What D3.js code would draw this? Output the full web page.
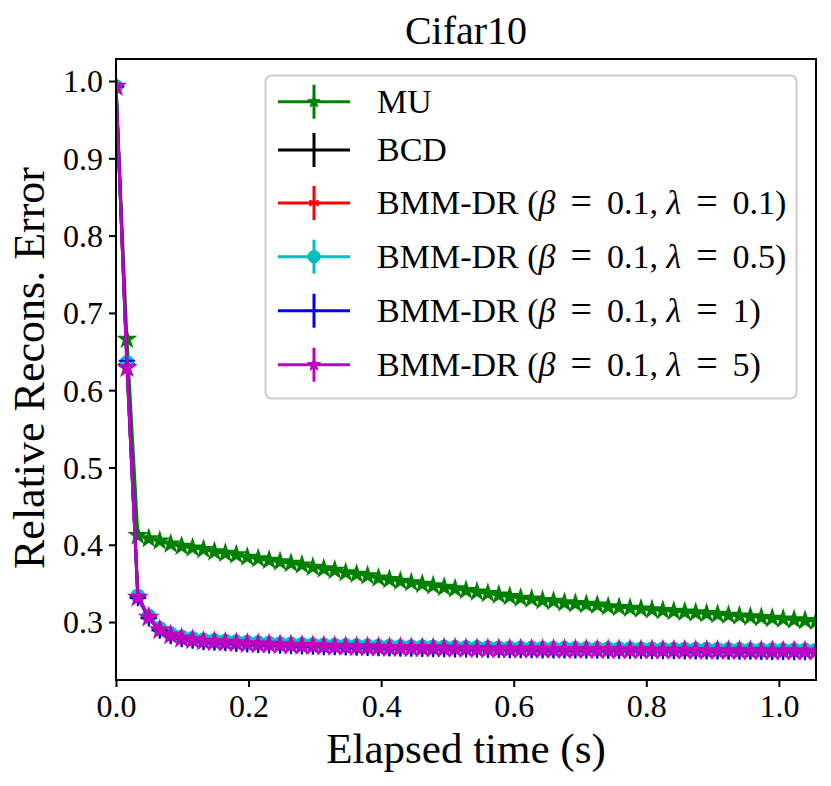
<!DOCTYPE html>
<html><head><meta charset="utf-8">
<script src="https://cdn.jsdelivr.net/npm/d3@7/dist/d3.min.js"></script>
<style>body{margin:0;background:#fff}</style>
</head><body>
<svg id="chart" width="831" height="786"></svg>
<script>
// Elapsed time (s) for each iteration
const time = [0.0000,0.0165,0.0330,0.0495,0.0660,0.0825,0.0990,0.1155,0.1320,0.1485,0.1650,0.1815,0.1980,0.2145,0.2310,0.2475,0.2640,0.2805,0.2970,0.3135,0.3300,0.3465,0.3630,0.3795,0.3960,0.4125,0.4290,0.4455,0.4620,0.4785,0.4950,0.5115,0.5280,0.5445,0.5610,0.5775,0.5940,0.6105,0.6270,0.6435,0.6600,0.6765,0.6930,0.7095,0.7260,0.7425,0.7590,0.7755,0.7920,0.8085,0.8250,0.8415,0.8580,0.8745,0.8910,0.9075,0.9240,0.9405,0.9570,0.9735,0.9900,1.0065,1.0230,1.0395,1.0560,1.0725];

const muValues = [0.993,0.666,0.412,0.408,0.405,0.401,0.398,0.396,0.394,0.391,0.389,0.387,0.384,0.382,0.380,0.378,0.376,0.374,0.371,0.369,0.367,0.364,0.362,0.360,0.357,0.355,0.353,0.351,0.349,0.347,0.345,0.343,0.341,0.339,0.337,0.335,0.333,0.331,0.330,0.328,0.327,0.325,0.324,0.323,0.322,0.320,0.319,0.318,0.317,0.316,0.315,0.314,0.313,0.312,0.311,0.310,0.309,0.308,0.307,0.306,0.305,0.304,0.303,0.302,0.301,0.300];

const bcdValues = [0.993,0.634,0.333,0.306,0.290,0.283,0.279,0.2768,0.2752,0.2745,0.2738,0.2730,0.2722,0.2715,0.2710,0.2705,0.2700,0.2696,0.2692,0.2688,0.2685,0.2682,0.2679,0.2676,0.2673,0.2670,0.2668,0.2666,0.2664,0.2662,0.2660,0.2658,0.2656,0.2654,0.2652,0.2650,0.2649,0.2648,0.2647,0.2646,0.2645,0.2644,0.2643,0.2642,0.2641,0.2640,0.2639,0.2638,0.2637,0.2636,0.2635,0.2634,0.2633,0.2632,0.2631,0.2630,0.2629,0.2628,0.2627,0.2626,0.2625,0.2624,0.2623,0.2622,0.2621,0.2620];

const bmmL01Values = [0.993,0.636,0.333,0.307,0.291,0.284,0.280,0.2775,0.2757,0.2750,0.2742,0.2734,0.2727,0.2720,0.2714,0.2709,0.2704,0.2700,0.2696,0.2692,0.2689,0.2686,0.2683,0.2680,0.2677,0.2674,0.2672,0.2670,0.2668,0.2666,0.2664,0.2662,0.2660,0.2658,0.2656,0.2654,0.2653,0.2652,0.2651,0.2650,0.2649,0.2648,0.2647,0.2646,0.2645,0.2644,0.2643,0.2642,0.2641,0.2640,0.2639,0.2638,0.2637,0.2636,0.2635,0.2634,0.2633,0.2632,0.2631,0.2630,0.2629,0.2628,0.2627,0.2626,0.2625,0.2624];

const bmmL05Values = [0.993,0.636,0.334,0.308,0.292,0.285,0.281,0.279,0.277,0.2763,0.2755,0.2747,0.2740,0.2733,0.2727,0.2722,0.2717,0.2713,0.2709,0.2705,0.2702,0.2699,0.2696,0.2693,0.2690,0.2688,0.2686,0.2684,0.2682,0.2680,0.2678,0.2676,0.2674,0.2672,0.2670,0.2668,0.2667,0.2666,0.2665,0.2664,0.2663,0.2662,0.2661,0.2660,0.2659,0.2658,0.2657,0.2656,0.2655,0.2654,0.2653,0.2652,0.2651,0.2650,0.2649,0.2648,0.2647,0.2646,0.2645,0.2644,0.2643,0.2642,0.2641,0.2640,0.2639,0.2638];

const bmmL1Values = [0.993,0.638,0.331,0.305,0.289,0.282,0.278,0.276,0.2742,0.2735,0.2727,0.2719,0.2712,0.2705,0.2700,0.2695,0.2690,0.2686,0.2682,0.2678,0.2675,0.2672,0.2669,0.2666,0.2663,0.2660,0.2658,0.2656,0.2654,0.2652,0.2650,0.2648,0.2646,0.2644,0.2642,0.2640,0.2639,0.2638,0.2637,0.2636,0.2635,0.2634,0.2633,0.2632,0.2631,0.2630,0.2629,0.2628,0.2627,0.2626,0.2625,0.2624,0.2623,0.2622,0.2621,0.2620,0.2619,0.2618,0.2617,0.2616,0.2615,0.2614,0.2613,0.2612,0.2611,0.2610];

const bmmL5Values = [0.993,0.629,0.332,0.306,0.290,0.283,0.279,0.277,0.2750,0.2745,0.2738,0.2730,0.2722,0.2715,0.2710,0.2705,0.2700,0.2696,0.2692,0.2688,0.2685,0.2682,0.2679,0.2676,0.2673,0.2670,0.2668,0.2666,0.2664,0.2662,0.2660,0.2658,0.2656,0.2654,0.2652,0.2650,0.2649,0.2648,0.2647,0.2646,0.2645,0.2644,0.2643,0.2642,0.2641,0.2640,0.2639,0.2638,0.2637,0.2636,0.2635,0.2634,0.2633,0.2632,0.2631,0.2630,0.2629,0.2628,0.2627,0.2626,0.2625,0.2624,0.2623,0.2622,0.2621,0.2620];

const seriesNames = ["MU","BCD","BMM-DR λ=0.1","BMM-DR λ=0.5","BMM-DR λ=1","BMM-DR λ=5"];
const lambdaLabels = [null, null, "0.1", "0.5", "1", "5"];
const seriesColors = ["#008000","#000000","#ff0000","#00bfbf","#0000ff","#bf00bf"];
const xTicks = [0.0,0.2,0.4,0.6,0.8,1.0];
const yTicks = [0.3,0.4,0.5,0.6,0.7,0.8,0.9,1.0];
const titleText = "Cifar10";
const xLabel = "Elapsed time (s)";
const yLabel = "Relative Recons. Error";

const seriesValues = [muValues,bcdValues,bmmL01Values,bmmL05Values,bmmL1Values,bmmL5Values];
const markerTypes = [
  {sym:d3.symbolStar, size:85, fill:true},
  {sym:d3.symbolPlus, size:90, fill:false},
  {sym:d3.symbolAsterisk, size:90, fill:false},
  {sym:d3.symbolCircle, size:135, fill:true},
  {sym:d3.symbolPlus, size:90, fill:false},
  {sym:d3.symbolStar, size:95, fill:true}
];
const legendMarkerScale = [0.55, 1, 0.9, 0.9, 1, 0.55];

const svg = d3.select("#chart");
const L=116, R=816, T=59, B=680;
const x = d3.scaleLinear().domain([0,1.056]).range([L,R]);
const y = d3.scaleLinear().domain([0.225,1.0285]).range([B,T]);
const serif = "'Liberation Serif','Times New Roman',serif";

svg.append("defs").append("clipPath").attr("id","clip")
  .append("rect").attr("x",L).attr("y",T).attr("width",R-L).attr("height",B-T);

const plot = svg.append("g").attr("clip-path","url(#clip)");
const line = d3.line().x(d=>x(d[0])).y(d=>y(d[1]));

seriesValues.forEach((vals,i)=>{
  const pts = time.map((t,j)=>[t, vals[j]]);
  const g = plot.append("g");
  g.append("path").datum(pts).attr("d",line)
    .attr("fill","none").attr("stroke",seriesColors[i]).attr("stroke-width",3)
    .attr("stroke-linejoin","round");
  const m = markerTypes[i];
  g.selectAll("path.m").data(pts).join("path").attr("class","m")
    .attr("transform",d=>`translate(${x(d[0])},${y(d[1])})`)
    .attr("d",d3.symbol().type(m.sym).size(m.size))
    .attr("fill",m.fill?seriesColors[i]:"none")
    .attr("stroke",seriesColors[i]).attr("stroke-width",m.fill?1.5:2);
});

// axes
const xAxis = svg.append("g").attr("transform",`translate(0,${B})`)
  .call(d3.axisBottom(x).tickValues(xTicks).tickFormat(d3.format(".1f")).tickSize(7).tickSizeOuter(0).tickPadding(5));
const yAxis = svg.append("g").attr("transform",`translate(${L},0)`)
  .call(d3.axisLeft(y).tickValues(yTicks).tickFormat(d3.format(".1f")).tickSize(7).tickSizeOuter(0).tickPadding(6));
[xAxis,yAxis].forEach(a=>{
  a.select(".domain").remove();
  a.selectAll(".tick line").attr("stroke","#000").attr("stroke-width",2);
  a.selectAll(".tick text").attr("font-family",serif).attr("font-size",32).attr("fill","#000");
});
xAxis.selectAll(".tick text").attr("dy","0.78em");
yAxis.selectAll(".tick text").attr("dy","0.34em");

svg.append("rect").attr("x",L).attr("y",T).attr("width",R-L).attr("height",B-T)
  .attr("fill","none").attr("stroke","#000").attr("stroke-width",2);

// title & labels
svg.append("text").attr("x",(L+R)/2).attr("y",44).attr("text-anchor","middle")
  .attr("font-family",serif).attr("font-size",40).text(titleText);
svg.append("text").attr("x",(L+R)/2).attr("y",763).attr("text-anchor","middle")
  .attr("font-family",serif).attr("font-size",43).text(xLabel);
svg.append("text").attr("transform","translate(44,368) rotate(-90)").attr("text-anchor","middle")
  .attr("font-family",serif).attr("font-size",44).text(yLabel);

// legend
const lg = svg.append("g");
lg.append("rect").attr("x",265.5).attr("y",75.5).attr("width",531).attr("height",323).attr("rx",6)
  .attr("fill","#fff").attr("fill-opacity",0.8).attr("stroke","#cccccc").attr("stroke-width",2);
const rowY = [101.7,150,203,256.7,310.7,364.7];
seriesNames.forEach((name,i)=>{
  const yy = rowY[i], c = seriesColors[i], m = markerTypes[i];
  lg.append("line").attr("x1",278).attr("x2",350).attr("y1",yy).attr("y2",yy).attr("stroke",c).attr("stroke-width",3);
  lg.append("line").attr("x1",314).attr("x2",314).attr("y1",yy-17).attr("y2",yy+17).attr("stroke",c).attr("stroke-width",3);
  lg.append("path").attr("transform",`translate(314,${yy})`)
    .attr("d",d3.symbol().type(m.sym).size(m.size*legendMarkerScale[i]))
    .attr("fill",m.fill?c:"none").attr("stroke",c).attr("stroke-width",m.fill?1:2);
  const t = lg.append("text").attr("x",377).attr("y",yy+11).attr("font-family",serif).attr("font-size",34).attr("fill","#000");
  if (lambdaLabels[i]===null) { t.text(name); }
  else {
    t.append("tspan").text("BMM-DR (");
    t.append("tspan").attr("font-style","italic").text("β");
    t.append("tspan").attr("dx",15).attr("font-size",38).text("=");
    t.append("tspan").attr("dx",15).text("0.1, ");
    t.append("tspan").attr("font-style","italic").text("λ");
    t.append("tspan").attr("dx",15).attr("font-size",38).text("=");
    t.append("tspan").attr("dx",15).text(lambdaLabels[i] + ")");
  }
});
</script>
</body></html>
